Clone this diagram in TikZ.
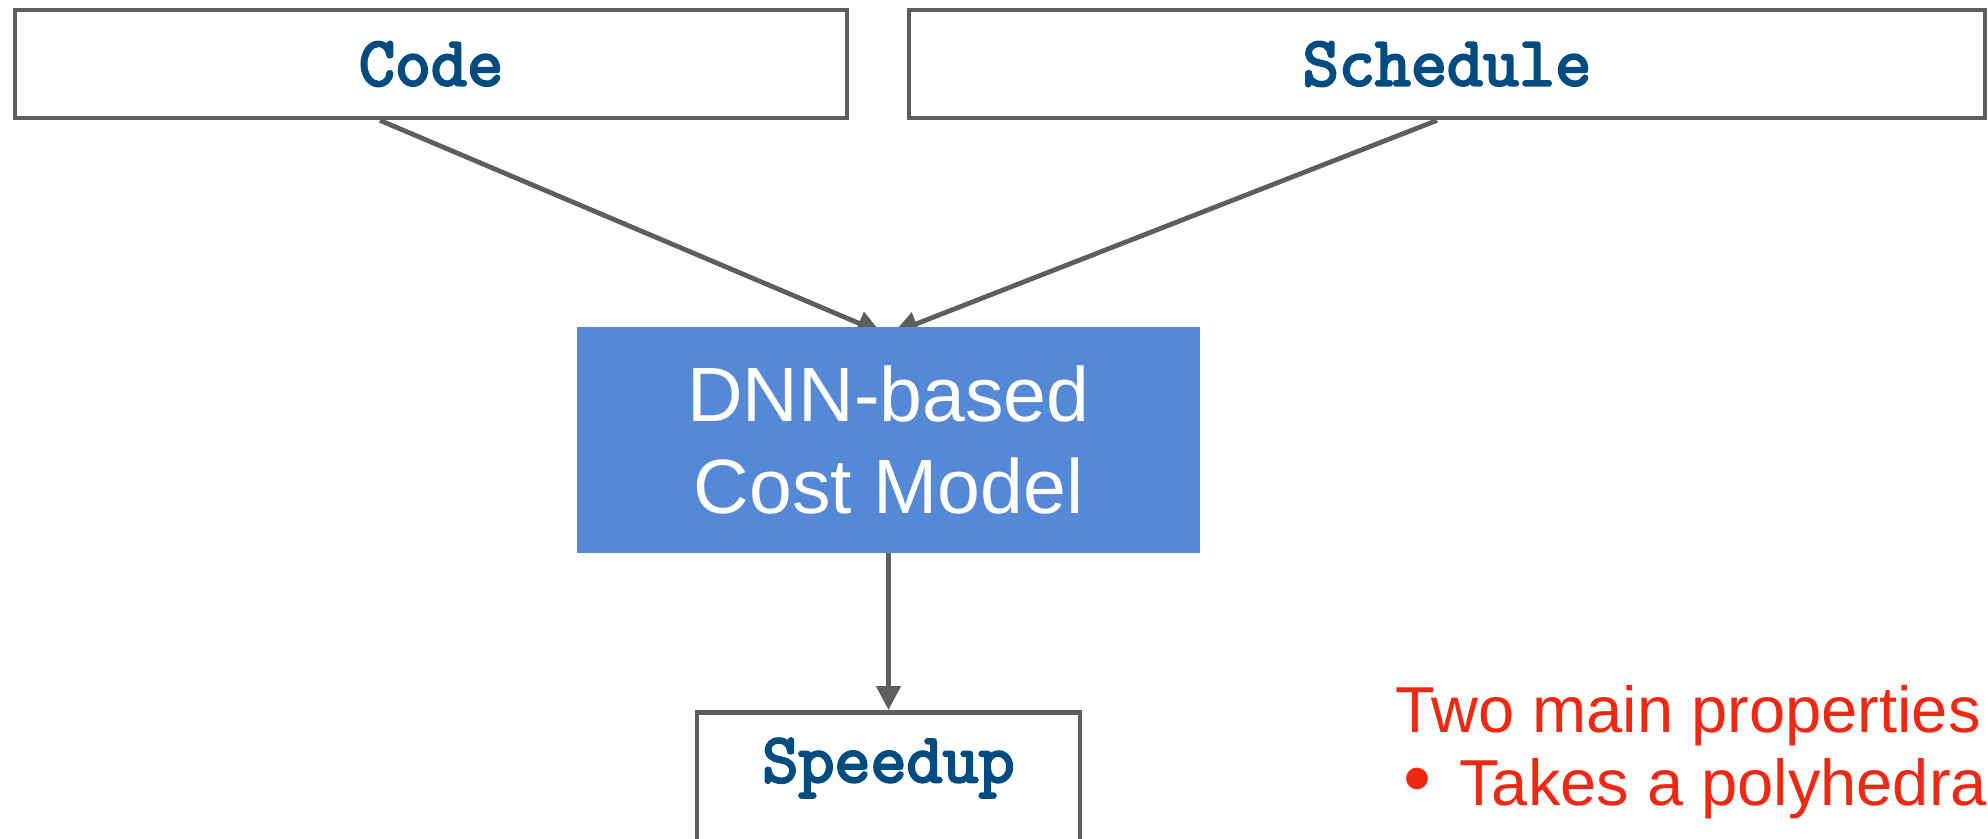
\documentclass[tikz,border=0pt]{standalone}
\usepackage{fontspec}
\setmainfont{Liberation Sans}
\setmonofont{Latin Modern Mono}[FakeBold=3.5]
\usetikzlibrary{arrows.meta}

\definecolor{edgegray}{HTML}{5E5E5E}
\definecolor{codeblue}{HTML}{004C80}
\definecolor{modelblue}{HTML}{5689D5}
\definecolor{notered}{HTML}{EE2812}

\tikzset{
  iobox/.style={draw=edgegray, line width=2.4pt, fill=white, inner sep=0pt},
  codetext/.style={font=\ttfamily\fontsize{35}{38}\selectfont, text=codeblue},
  modelbox/.style={fill=modelblue, inner sep=0pt, align=center, text=white,
    font=\fontsize{38.5}{44}\selectfont},
  flow/.style={draw=edgegray, line width=2.4pt, -{Triangle[length=12pt,width=12pt]}},
  note/.style={text=notered, font=\fontsize{32.5}{36}\selectfont, inner sep=0pt, anchor=base west},
}

\begin{document}
\begin{tikzpicture}[x=0.5pt, y=-0.5pt]
  \useasboundingbox (0,0) rectangle (1988,839);
  \clip (0,0) rectangle (1988,839);

  % inputs
  \node[iobox, minimum width=416pt, minimum height=54pt] (code) at (431,64) {};
  \node[codetext] at (code.center) {Code};
  \node[iobox, minimum width=538pt, minimum height=54pt] (sched) at (1447,64) {};
  \node[codetext] at (sched.center) {Schedule};

  % output box (open at the bottom edge)
  \node[iobox, minimum width=191.5pt, minimum height=120pt, anchor=north] (speed) at (888.5,710) {};
  \node[codetext] at (888.5,768) {Speedup};

  % cost model: placed with its outline only, filled after the arrows
  \path node[minimum width=311.5pt, minimum height=113pt, inner sep=0pt] (model) at (888.5,440) {};

  % connectors (their tips end just inside the model box)
  \draw[flow] ([xshift=-25.5pt]code.south) -- ([xshift=-3.75pt,yshift=-3pt]model.north);
  \draw[flow] ([xshift=-5pt]sched.south) -- ([xshift=2.75pt,yshift=-3pt]model.north);
  \draw[flow] (model.south) -- (speed.north);

  \node[modelbox, minimum width=311.5pt, minimum height=113pt] at (model.center)
    {DNN-based\\[2pt]Cost Model};

  % side note
  \node[note] (n1) at (1395,733) {Two main properties};
  \node[note] (n2) at (1403,805) {{\fontsize{40}{40}\selectfont\textbullet}\hspace{14pt}Takes a polyhedral};
\end{tikzpicture}
\end{document}
